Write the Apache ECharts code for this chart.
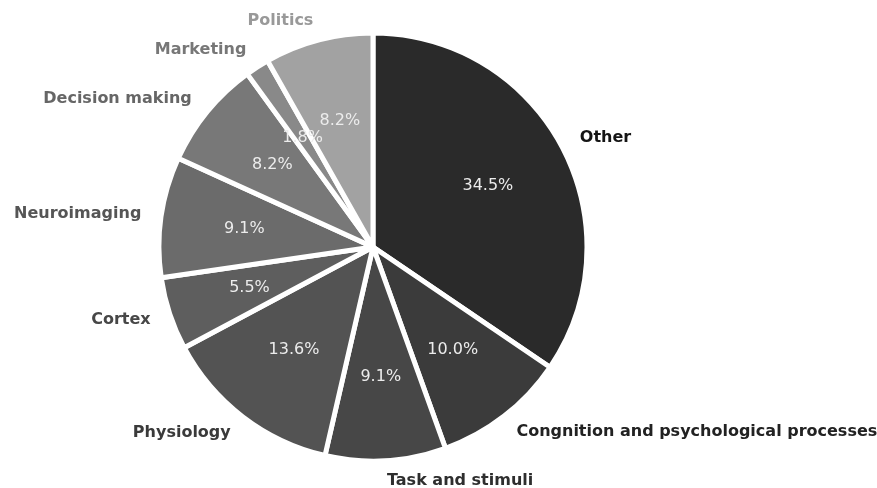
<!DOCTYPE html>
<html>
<head>
<meta charset="utf-8">
<script src="https://cdn.jsdelivr.net/npm/echarts@6/dist/echarts.min.js"></script>
<style>
  html, body { margin: 0; padding: 0; background: #ffffff; }
  #chart { width: 877px; height: 488px; }
</style>
</head>
<body>
<div id="chart"></div>
<script>
// Topic shares (percent), listed clockwise from 12 o'clock
const categories = [
  'Other',
  'Congnition and psychological processes',
  'Task and stimuli',
  'Physiology',
  'Cortex',
  'Neuroimaging',
  'Decision making',
  'Marketing',
  'Politics'
];
const shares = [34.5, 10.0, 9.1, 13.6, 5.5, 9.1, 8.2, 1.8, 8.2];

// Grey ramp for wedges and their outer labels
const wedgeColors = ['#2a2a2a', '#3b3b3b', '#474747', '#535353', '#5e5e5e', '#6b6b6b', '#787878', '#898989', '#a2a2a2'];
const labelColors = ['#151515', '#222222', '#2e2e2e', '#3a3a3a', '#474747', '#555555', '#666666', '#777777', '#999999'];

const cx = 373, cy = 247, R = 214;

const chart = echarts.init(document.getElementById('chart'), null, { renderer: 'canvas' });

const wedgeData = categories.map((name, i) => ({
  name: name,
  value: shares[i],
  itemStyle: { color: wedgeColors[i] },
  label: { color: labelColors[i] }
}));

const pctData = categories.map((name, i) => ({ name: name, value: shares[i] }));

chart.setOption({
  backgroundColor: '#ffffff',
  animation: false,
  series: [
    {
      type: 'pie',
      center: [cx, cy],
      radius: [0, R],
      startAngle: 90,
      clockwise: true,
      avoidLabelOverlap: false,
      itemStyle: { borderColor: '#ffffff', borderWidth: 5 },
      label: {
        show: true,
        position: 'outside',
        formatter: '{b}',
        fontFamily: 'DejaVu Sans',
        fontWeight: 'bold',
        fontSize: 16,
        distanceToLabelLine: 0
      },
      labelLine: { show: false, length: 20, length2: 0 },
      emphasis: { disabled: true },
      data: wedgeData
    },
    {
      // transparent ring whose mid-radius places the percentage labels
      type: 'pie',
      center: [cx, cy],
      radius: [40, R],
      startAngle: 90,
      clockwise: true,
      silent: true,
      percentPrecision: 1,
      avoidLabelOverlap: false,
      itemStyle: { color: 'rgba(0,0,0,0)', borderWidth: 0 },
      label: {
        show: true,
        position: 'inside',
        formatter: (p) => p.value.toFixed(1) + '%',
        fontFamily: 'DejaVu Sans',
        fontSize: 16,
        color: '#ececec'
      },
      labelLine: { show: false },
      emphasis: { disabled: true },
      data: pctData
    }
  ]
});
</script>
</body>
</html>
